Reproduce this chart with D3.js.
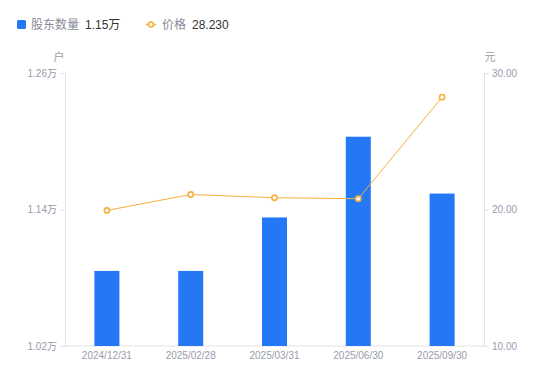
<!DOCTYPE html>
<html><head><meta charset="utf-8">
<script src="https://cdn.jsdelivr.net/npm/d3@7"></script>
<style>body{margin:0;background:#fff;font-family:"Noto Sans CJK SC","Noto Sans",sans-serif;}</style>
</head><body><svg id="c" width="550" height="381"></svg>
<script>
const categories = ["2024/12/31","2025/02/28","2025/03/31","2025/06/30","2025/09/30"];
const holders = [1.086, 1.086, 1.133, 1.204, 1.154];
const prices = [19.93, 21.10, 20.86, 20.79, 28.23];
const leftTicks = [1.02, 1.14, 1.26];
const rightTicks = [10, 20, 30];

const svg = d3.select("#c");
const L = 65, R = 484, T = 73, B = 346;
const numFont = "'Liberation Sans', Arial, 'Noto Sans CJK SC', sans-serif";
const x = d3.scaleBand().domain(categories).range([L, R]);
const yL = d3.scaleLinear().domain([1.02, 1.26]).range([B, T]);
const yR = d3.scaleLinear().domain([10, 30]).range([B, T]);
const axisColor = "#e3e3e6", textColor = "#9a9bab";

// axes
const gl = svg.append("g").attr("transform", `translate(${L},0)`)
  .call(d3.axisLeft(yL).tickValues(leftTicks).tickSize(5).tickPadding(3).tickFormat(d => d.toFixed(2) + "万"));
const gr = svg.append("g").attr("transform", `translate(${R},0)`)
  .call(d3.axisRight(yR).tickValues(rightTicks).tickSize(5).tickPadding(3).tickFormat(d => d.toFixed(2)));
const gb = svg.append("g").attr("transform", `translate(0,${B})`)
  .call(d3.axisBottom(x).tickSize(0).tickPadding(6));
[gl, gr, gb].forEach(g => {
  g.select(".domain").attr("stroke", axisColor);
  g.selectAll(".tick line").attr("stroke", axisColor);
  g.selectAll("text").attr("fill", textColor).style("font-size", "10px").style("font-family", numFont);
});
gb.select(".domain").attr("d", `M${L},0H${R}`);

svg.append("text").attr("x", 59).attr("y", 61).attr("text-anchor", "middle").attr("fill", textColor).style("font-size", "11px").text("户");
svg.append("text").attr("x", 490).attr("y", 61).attr("text-anchor", "middle").attr("fill", textColor).style("font-size", "11px").text("元");

// bars
const bw = 25;
svg.append("g").selectAll("rect").data(holders).join("rect")
  .attr("x", (d, i) => x(categories[i]) + x.bandwidth() / 2 - bw / 2)
  .attr("y", d => yL(d)).attr("width", bw).attr("height", d => B - yL(d))
  .attr("fill", "#2477f5");

// line
const orange = "#f8b03d";
const line = d3.line().x((d, i) => x(categories[i]) + x.bandwidth() / 2).y(d => yR(d));
svg.append("path").datum(prices).attr("d", line).attr("fill", "none").attr("stroke", orange).attr("stroke-width", 1);
svg.append("g").selectAll("circle").data(prices).join("circle")
  .attr("cx", (d, i) => x(categories[i]) + x.bandwidth() / 2).attr("cy", d => yR(d))
  .attr("r", 2.6).attr("fill", "#fff").attr("stroke", orange).attr("stroke-width", 1.6);

// legend
const lg = svg.append("g");
lg.append("rect").attr("x", 17).attr("y", 20).attr("width", 9).attr("height", 9).attr("rx", 1.5).attr("fill", "#2477f5");
lg.append("text").attr("x", 31).attr("y", 29).attr("fill", "#8a8b99").style("font-size", "12px").text("股东数量");
lg.append("text").attr("x", 85).attr("y", 29).attr("fill", "#333").style("font-size", "12px").style("font-family", numFont).text(holders[holders.length-1].toFixed(2) + "万");
lg.append("line").attr("x1", 146).attr("x2", 156).attr("y1", 24.5).attr("y2", 24.5).attr("stroke", orange).attr("stroke-width", 1.5);
lg.append("circle").attr("cx", 151).attr("cy", 24.5).attr("r", 2.5).attr("fill", "#fff").attr("stroke", orange).attr("stroke-width", 1.6);
lg.append("text").attr("x", 162).attr("y", 29).attr("fill", "#8a8b99").style("font-size", "12px").text("价格");
lg.append("text").attr("x", 192).attr("y", 29).attr("fill", "#333").style("font-size", "12px").style("font-family", numFont).text(prices[prices.length-1].toFixed(3));
</script></body></html>
